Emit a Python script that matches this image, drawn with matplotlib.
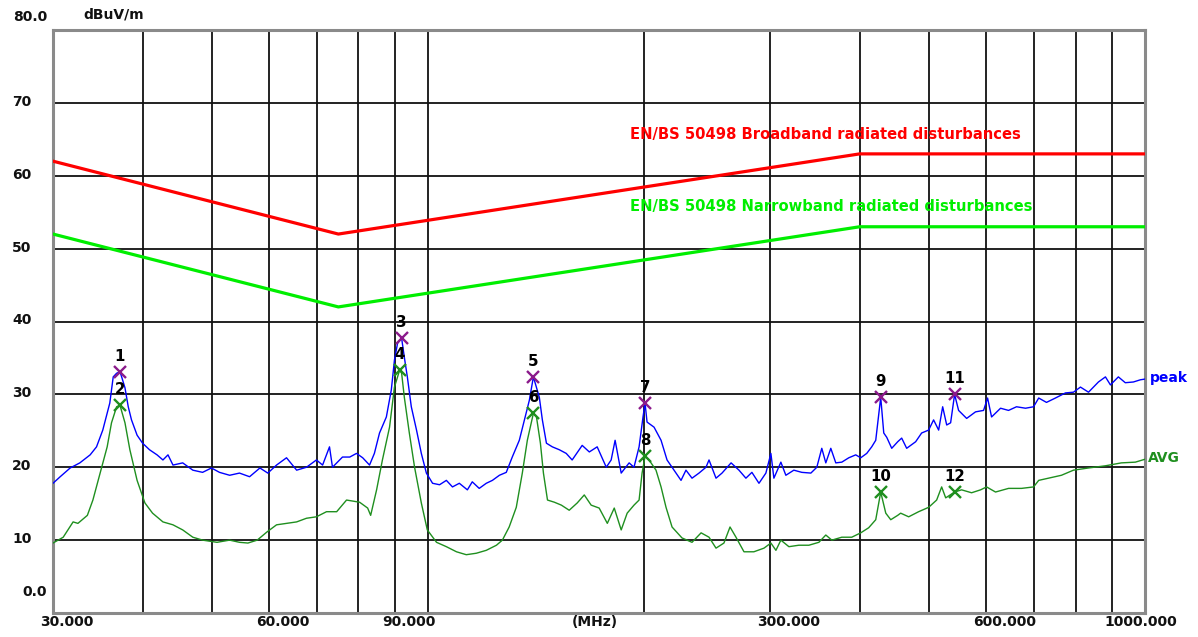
import matplotlib
matplotlib.use("Agg")
import matplotlib.pyplot as plt

# ---- measured spectrum: peak detector (MHz, dBuV/m) ----
peak_freq = [30.0, 30.7, 31.7, 32.7, 33.8, 34.5, 35.2, 36.0, 36.4, 36.8, 37.2, 37.4, 37.8, 38.2,
             38.6, 39.3, 40.0, 40.9, 41.9, 42.7, 43.4, 44.1, 45.5, 47.0, 48.5, 49.9, 51.2, 52.9,
             54.6, 56.4, 58.3, 59.8, 61.5, 63.5, 65.6, 67.7, 69.9, 71.3, 72.9, 73.6, 76.0, 77.8,
             79.5, 81.1, 82.9, 84.2, 85.6, 87.5, 88.9, 89.8, 90.7, 91.9, 92.7, 93.6, 94.8, 96.4,
             97.9, 99.5, 101.5, 103.8, 106.1, 108.2, 110.6, 113.5, 115.3, 117.9, 120.6, 123.0,
             125.8, 128.6, 131.1, 134.1, 136.3, 138.5, 140.3, 143.0, 144.4, 146.3, 149.1, 152.5,
             155.9, 158.9, 164.1, 167.9, 172.2, 177.3, 180.1, 182.4, 186.0, 190.8, 193.8, 197.0,
             199.5, 200.8, 202.1, 206.7, 211.4, 215.5, 220.4, 225.4, 229.0, 233.5, 238.8, 244.2,
             246.6, 252.2, 257.1, 264.7, 271.5, 277.6, 283.0, 289.5, 296.0, 300.8, 303.7, 310.6,
             315.6, 323.8, 332.2, 342.0, 348.6, 354.2, 358.8, 364.6, 370.5, 377.7, 386.3, 395.0,
             401.4, 409.2, 415.8, 421.2, 428.0, 432.2, 436.4, 443.4, 452.0, 457.8, 465.2, 478.8,
             488.1, 499.2, 507.2, 515.5, 522.2, 529.0, 535.7, 542.6, 549.6, 564.0, 580.3, 595.5,
             603.2, 611.0, 628.9, 645.2, 661.9, 681.4, 699.2, 710.8, 728.8, 750.1, 774.6, 794.8,
             812.8, 834.1, 861.1, 880.7, 894.9, 918.0, 938.7, 963.4, 985.2, 1000.0]
peak_level = [17.8, 18.7, 19.9, 20.6, 21.7, 22.8, 25.1, 28.8, 32.4, 32.9, 33.1, 32.4, 30.9, 28.3,
              26.5, 24.4, 23.3, 22.4, 21.7, 21.0, 21.7, 20.3, 20.6, 19.6, 19.3, 19.9, 19.3, 18.9,
              19.2, 18.7, 19.9, 19.2, 20.3, 21.3, 19.6, 20.0, 21.0, 20.3, 22.8, 20.0, 21.4, 21.4,
              21.9, 21.3, 20.3, 21.9, 24.7, 26.9, 30.6, 34.7, 37.0, 37.7, 35.1, 32.4, 28.3, 25.1,
              21.9, 19.2, 17.8, 17.6, 18.2, 17.3, 17.8, 16.9, 18.0, 17.1, 17.8, 18.2,
              18.9, 19.3, 21.4, 23.7, 26.5, 29.2, 32.4, 29.6, 26.5, 23.3, 22.8, 22.4,
              21.9, 21.0, 23.0, 22.1, 22.8, 20.0, 21.0, 23.7, 19.2, 20.6, 20.0, 22.8,
              26.9, 28.8, 26.2, 25.5, 23.7, 21.0, 19.6, 18.2, 19.6, 18.5, 19.2, 20.0,
              21.0, 18.5, 19.2, 20.6, 19.6, 18.5, 19.3, 17.8, 19.2, 21.9, 18.5, 20.7,
              18.9, 19.6, 19.3, 19.2, 20.0, 22.6, 20.6, 22.6, 20.6, 20.7, 21.3, 21.7,
              21.3, 21.9, 22.8, 23.7, 29.6, 24.7, 24.1, 22.6, 23.5, 24.0, 22.6, 23.5,
              24.7, 25.1, 26.5, 25.1, 28.3, 25.8, 26.1, 30.0, 27.8, 26.7, 27.6, 27.8,
              29.5, 26.9, 28.1, 27.8, 28.3, 28.1, 28.3, 29.5, 28.9, 29.5, 30.2, 30.3,
              31.0, 30.3, 31.7, 32.4, 31.3, 32.4, 31.6, 31.7, 32.0, 32.1]

# ---- measured spectrum: average detector (MHz, dBuV/m) ----
avg_freq = [30.0, 31.0, 32.0, 32.5, 33.5, 34.1, 34.9, 35.7, 36.2, 36.8, 37.2, 37.8, 38.4, 39.3,
            40.3, 41.3, 42.7, 44.1, 45.5, 47.0, 48.5, 50.8, 52.9, 54.6, 56.1, 57.8, 59.6, 61.5,
            63.5, 65.6, 67.7, 69.9, 72.2, 74.6, 77.0, 80.3, 82.4, 83.2, 84.8, 86.4, 88.4, 89.8,
            91.3, 91.9, 92.7, 94.2, 95.8, 97.9, 99.8, 102.8, 106.1, 109.6, 113.1, 116.8, 120.6,
            124.6, 127.0, 129.8, 132.8, 135.4, 137.6, 140.3, 141.7, 143.5, 144.9, 146.8, 150.1,
            153.5, 157.4, 161.5, 165.2, 168.9, 173.3, 177.9, 181.9, 186.0, 189.6, 193.8, 197.0,
            198.9, 200.8, 203.4, 208.0, 211.4, 214.8, 219.0, 226.1, 233.5, 240.4, 246.6, 252.2,
            258.7, 263.8, 268.9, 275.9, 284.8, 294.2, 300.8, 305.7, 310.6, 318.7, 329.0, 339.8,
            350.9, 358.8, 365.8, 377.7, 390.0, 401.4, 411.8, 421.2, 428.0, 435.0, 442.0, 452.0,
            456.3, 468.2, 483.4, 499.2, 512.2, 520.5, 527.3, 542.6, 554.9, 573.0, 589.8, 601.3,
            618.8, 645.2, 672.7, 699.2, 710.8, 733.2, 764.7, 794.8, 834.1, 880.7, 926.9, 969.4,
            1000.0]
avg_level = [9.6, 10.4, 12.5, 12.3, 13.4, 15.5, 19.2, 22.8, 26.1, 28.3, 28.5, 26.1, 22.4, 18.2,
             15.1, 13.7, 12.5, 12.1, 11.4, 10.4, 10.0, 9.7, 10.0, 9.7, 9.6, 10.0, 11.1, 12.1,
             12.3, 12.5, 13.0, 13.2, 13.9, 13.9, 15.5, 15.2, 14.4, 13.4, 16.9, 21.0, 25.5, 31.0,
             33.3, 32.9, 29.6, 24.7, 20.0, 15.1, 11.4, 9.7, 9.1, 8.4, 8.0, 8.2, 8.6,
             9.3, 10.0, 11.8, 14.5, 19.2, 23.7, 27.4, 26.9, 23.3, 19.2, 15.5, 15.2,
             14.8, 14.1, 15.1, 16.2, 14.8, 14.4, 12.3, 14.4, 11.4, 13.7, 14.8, 15.5,
             19.2, 21.5, 21.0, 19.6, 17.3, 14.5, 11.8, 10.3, 9.7, 11.0, 10.4, 8.9,
             9.6, 11.8, 10.4, 8.4, 8.4, 8.9, 9.6, 8.6, 10.0, 9.1, 9.3, 9.3,
             9.7, 10.7, 10.0, 10.4, 10.4, 11.0, 11.7, 12.8, 16.6, 13.7, 12.8, 13.4,
             13.7, 13.2, 13.9, 14.5, 15.5, 17.3, 15.8, 16.6, 16.9, 16.5, 16.9, 17.3,
             16.6, 17.1, 17.1, 17.3, 18.2, 18.5, 18.9, 19.6, 19.9, 20.2, 20.6, 20.7,
             21.1]

# ---- EN/BS 50498 limit lines ----
limit_freq = [30, 75, 400, 1000]
broadband_limit = [62, 52, 63, 63]
narrowband_limit = [52, 42, 53, 53]
broadband_label = "EN/BS 50498 Broadband radiated disturbances"
narrowband_label = "EN/BS 50498 Narrowband radiated disturbances"

# ---- marker table ----
marker_ids = ["1", "2", "3", "4", "5", "6", "7", "8", "9", "10", "11", "12"]
marker_freq = [37.2, 37.2, 91.9, 91.3, 140.3, 140.3, 200.8, 200.8, 428.0, 428.0, 542.6, 542.6]
marker_level = [33.1, 28.5, 37.7, 33.3, 32.4, 27.4, 28.8, 21.5, 29.6, 16.6, 30.0, 16.6]
marker_detector = ["peak", "avg"] * 6

# ---- axis labelling ----
x_grid = [40, 50, 60, 70, 80, 90, 100, 200, 300, 400, 500, 600, 700, 800, 900]
x_label_freq = [30, 60, 90, 300, 600, 1000]
x_label_text = ["30.000", "60.000", "90.000", "300.000", "600.000", "1000.000"]
y_grid = [10, 20, 30, 40, 50, 60, 70]
y_label_level = [80, 70, 60, 50, 40, 30, 20, 10, 0]
y_label_text = ["80.0", "70", "60", "50", "40", "30", "20", "10", "0.0"]

W, H = 1198, 637
fig = plt.figure(figsize=(W / 100, H / 100), dpi=100)
fig.patch.set_facecolor("white")

L, R, T, B = 53, 1145, 30, 613
ax = fig.add_axes([L / W, 1 - B / H, (R - L) / W, (B - T) / H])
ax.set_xscale("log")
ax.set_xlim(30, 1000)
ax.set_ylim(0, 80)
ax.set_xticks([])
ax.set_yticks([])
ax.minorticks_off()
for s in ax.spines.values():
    s.set_color("#8a8a8a")
    s.set_linewidth(2.2)

for f in x_grid:
    ax.axvline(f, color="#111111", lw=1.3, zorder=1)
for v in y_grid:
    ax.axhline(v, color="#111111", lw=1.3, zorder=1)

ax.plot(limit_freq, broadband_limit, color="#ff0000", lw=2.3, zorder=3)
ax.plot(limit_freq, narrowband_limit, color="#00ee00", lw=2.3, zorder=3)

ax.plot(avg_freq, avg_level, color="#1f8f1f", lw=1.0, zorder=4)
ax.plot(peak_freq, peak_level, color="#0000ff", lw=1.0, zorder=5)

font = dict(family="DejaVu Sans", weight="bold", fontsize=10)
num_font = dict(family="DejaVu Sans", weight="bold", fontsize=10.8)
cap_font = dict(family="DejaVu Sans", weight="bold", fontsize=10.6)

for mid, f, v, det in zip(marker_ids, marker_freq, marker_level, marker_detector):
    col = "#8b1a8b" if det == "peak" else "#1f8f1f"
    ax.plot([f], [v], marker="x", ms=8.5, mew=1.7, color=col, zorder=6)
    ax.annotate(mid, xy=(f, v), xytext=(0, 8), textcoords="offset pixels",
                ha="center", va="bottom", color="black", zorder=7, **num_font)

# limit line captions
ax.annotate(broadband_label, xy=(630 / W, 1 - 135 / H), xycoords="figure fraction",
            ha="left", va="center", color="#ff0000", **cap_font)
ax.annotate(narrowband_label, xy=(630 / W, 1 - 207 / H), xycoords="figure fraction",
            ha="left", va="center", color="#00ee00", **cap_font)

# trace names at the right edge
fig.text(1150 / W, 1 - 378 / H, "peak", ha="left", va="center", color="#0000ff", **font)
fig.text(1148 / W, 1 - 458 / H, "AVG", ha="left", va="center", color="#1f8f1f", **font)

# y labels
for v, t in zip(y_label_level, y_label_text):
    dy = 0
    if v == 80:
        dy = 13
    elif v == 0:
        dy = 21
    if t in ("80.0", "0.0"):
        ax.annotate(t, xy=(0, v), xycoords=("axes fraction", "data"),
                    xytext=(-6, dy), textcoords="offset pixels",
                    ha="right", va="center", color="#111111", **font)
    else:
        ax.annotate(t, xy=(0, v), xycoords=("axes fraction", "data"),
                    xytext=(-41, 1), textcoords="offset pixels",
                    ha="left", va="center", color="#111111", **font)

fig.text(83 / W, 1 - 15 / H, "dBuV/m", ha="left", va="center", color="#111111", **font)

# x labels
for f, t in zip(x_label_freq, x_label_text):
    if f == 1000:
        ax.annotate(t, xy=(f, 0), xycoords=("data", "axes fraction"),
                    xytext=(32, -9), textcoords="offset pixels",
                    ha="right", va="center", color="#111111", **font)
    else:
        ax.annotate(t, xy=(f, 0), xycoords=("data", "axes fraction"),
                    xytext=(-13, -9), textcoords="offset pixels",
                    ha="left", va="center", color="#111111", **font)
fig.text(595 / W, 1 - 622 / H, "(MHz)", ha="center", va="center", color="#111111", **font)

fig.savefig("out.png", dpi=100, facecolor="white")
